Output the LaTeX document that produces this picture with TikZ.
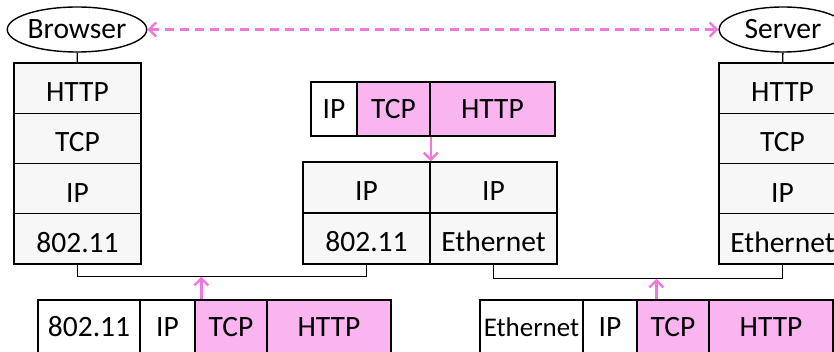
\documentclass[tikz,border=0pt]{standalone}
\usepackage{fontspec}
\setmainfont{Carlito}
\usetikzlibrary{arrows.meta,shapes.geometric}
\definecolor{pktpink}{RGB}{250,180,240}
\definecolor{linkpink}{RGB}{240,120,220}
\definecolor{layergray}{RGB}{247,247,247}
\tikzset{
  layer/.style={draw,fill=layergray,inner sep=0pt,minimum width=127pt,text height=27pt,text depth=0pt},
  hdr/.style={draw,inner sep=0pt,minimum height=54pt,text height=19pt,text depth=0pt},
  host/.style={draw,ellipse,inner sep=0pt,minimum width=128pt,minimum height=45pt},
  pinkarrow/.style={draw=linkpink,line width=2.4pt,-{Straight Barb[length=7pt,width=14pt]}},
}
\begin{document}
\begin{tikzpicture}[x=1pt,y=-1pt,line width=1.4pt,font=\fontsize{29.5}{35}\selectfont]
        \clip(0,0)rectangle(834,352);
        \node[host](browser)at(77,29.5){Browser};
        \node[host](server)at(783,29.5){Server};
        % end hosts
        \foreach \i/\t in {1/HTTP,2/TCP,3/IP,4/802.11}{
            \node[layer,minimum height=50.25pt](b\i)at(77.5,37.875+50.25*\i){\t};
        }
        \foreach \i/\t in {1/HTTP,2/TCP,3/IP,4/Ethernet}{
            \node[layer,minimum height=50.25pt](s\i)at(782.5,37.875+50.25*\i){\t};
        }
        % router
        \node[layer,minimum height=51pt](r1)at(366.5,187.5){IP};
        \node[layer,minimum height=51pt](r2)at(366.5,238.5){802.11};
        \node[layer,minimum height=51pt](r3)at(493.5,187.5){IP};
        \node[layer,minimum height=51pt](r4)at(493.5,238.5){Ethernet};
        % packets
        \foreach \n/\x/\w/\t/\c in {
        ta/334/46/IP/white,
        tb/393.5/73/TCP/pktpink,
        tc/492.5/125/HTTP/pktpink}{
            \node[hdr,fill=\c,minimum width=\w pt](\n)at(\x,109){\t};
        }
        \foreach \n/\x/\w/\t/\c in {
        la/89/102/802.11/white,
        lb/167.5/55/IP/white,
        lc/231/72/TCP/pktpink,
        ld/329/124/HTTP/pktpink,
        ra/531.5/103/{\fontsize{27}{30}\selectfont Ethernet}/white,
        rb/610/54/IP/white,
        rc/673/72/TCP/pktpink,
        rd/771/124/HTTP/pktpink}{
            \node[hdr,fill=\c,minimum width=\w pt](\n)at(\x,327){\t};
        }
        \draw(browser)--(b1);
        \draw(server)--(s1);
        % links
        \draw(b4.south)--++(0,12)coordinate(lanA)-|(r2.south);
        \draw(r4.south)--++(0,14)coordinate(lanB)-|(s4.south);
        \draw[pinkarrow]([xshift=7pt]lc.north west)--([xshift=7pt]lc.north west|-lanA);
        \draw[pinkarrow]([xshift=20pt]rc.north west)--([xshift=20pt]rc.north west|-lanB);
        \draw[pinkarrow](tb.south east)--(r1.north east);
        \draw[pinkarrow,dash pattern=on 9pt off 6pt,{Straight Barb[length=7pt,width=14pt]}-{Straight Barb[length=7pt,width=14pt]}](browser)--(server);
    \end{tikzpicture}
\end{document}
